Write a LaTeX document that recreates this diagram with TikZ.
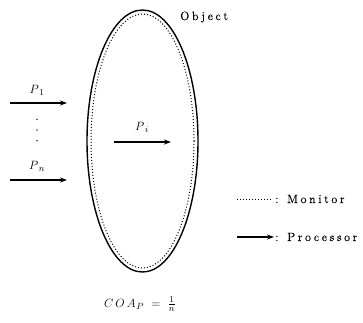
\documentclass[tikz,border=0pt]{standalone}
\usepackage{fontspec}
\setmainfont{Latin Modern Roman}[LetterSpace=22,FakeBold=0.3]
\usetikzlibrary{arrows.meta,shapes.geometric}
\begin{document}
\begin{tikzpicture}[x=1pt,y=-1pt,
  proc/.style={line width=1.3pt,-{Stealth[length=7pt,width=5pt]}},
  outer/.style={line width=1.4pt},
  monitor/.style={line width=1pt,dotted},
  lbl/.style={inner sep=0pt,font=\fontsize{13}{15}\selectfont},
  txt/.style={inner sep=0pt,font=\fontsize{12}{14}\selectfont,anchor=base west}]
\useasboundingbox (0,0) rectangle (363,322);
% object
\node[outer,draw,ellipse,minimum width=111pt,minimum height=262pt,inner sep=0pt] (obj) at (142.5,141) {};
\node[monitor,draw,ellipse,minimum width=103pt,minimum height=254pt,inner sep=0pt] (mon) at (142.5,141) {};
\node[txt] (objlbl) at (180,20) {Object};
% processors
\coordinate (p1s) at (10,103); \coordinate (p1e) at (67,103);
\coordinate (pns) at (10,180); \coordinate (pne) at (67,180);
\coordinate (pis) at (114,142); \coordinate (pie) at (171,142);
\draw[proc] (p1s) -- (p1e);
\draw[proc] (pns) -- (pne);
\draw[proc] (pis) -- (pie);
\node[lbl] (lp1) at (37,90) {$P\mkern1mu{}_1$};
\node[lbl] (lpn) at (37,166) {$P\mkern1mu{}_n$};
\node[lbl] (lpi) at (142,127) {$P\mkern1mu{}_i$};
\node[lbl] (dots) at (37,130) {\vbox{\offinterlineskip\hbox{.}\kern9.5pt\hbox{.}\kern9.5pt\hbox{.}}};
% legend
\coordinate (ms) at (237,199); \coordinate (me) at (272,199);
\draw[monitor] (ms) -- (me);
\node[txt] (mlbl) at (275,203) {: Monitor};
\coordinate (ps) at (237,237); \coordinate (pe) at (274,237);
\draw[proc] (ps) -- (pe);
\node[txt] (plbl) at (275,241) {: Processor};
% formula
\node[lbl] (coa) at (140,304) {$C\mkern3mu O\mkern3mu A\mkern1mu{}_P\mkern6mu=\mkern6mu\frac{1}{n}$};
\end{tikzpicture}
\end{document}
